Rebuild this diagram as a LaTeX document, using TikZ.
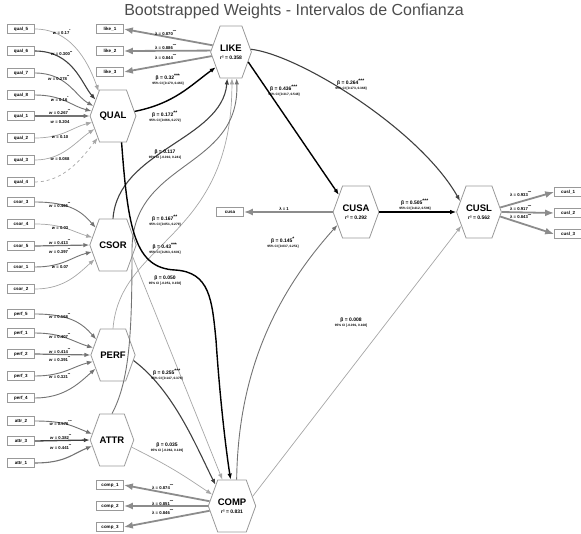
\documentclass[tikz,border=0pt]{standalone}
\usepackage{fontspec}
\setmainfont{Liberation Sans}
\usetikzlibrary{arrows.meta,shapes.symbols}

\tikzset{
  cons/.style={signal, signal to=east and west, signal pointer angle=140,
    draw=black!40, line width=0.8pt, fill=white, minimum width=40pt,
    minimum height=52pt, inner sep=0pt, align=center,
    font=\fontsize{9.5}{9}\selectfont\bfseries},
  ind/.style={draw=black!40, line width=0.7pt, fill=white, minimum width=27pt,
    minimum height=9pt, inner sep=0pt, font=\fontsize{4.5}{5}\selectfont\bfseries},
  wt/.style={font=\fontsize{4.2}{5}\selectfont\bfseries, inner sep=0pt},
  bt/.style={align=center, inner sep=0pt, font=\fontsize{5}{5.5}\selectfont\bfseries},
  tip/.style={-{Latex[length=6pt,width=4.5pt]}},
  pblack/.style={tip, black, line width=1.4pt},
  pdark/.style={tip, black!75, line width=1.1pt},
  pgray/.style={tip, black!55, line width=0.9pt},
  plight/.style={tip, black!35, line width=0.7pt},
  refl/.style={-{Latex[length=9pt,width=7pt]}, black!45, line width=1.8pt},
}
\newcommand{\rsq}[1]{\\[-1pt]{\fontsize{5}{5}\selectfont r² = #1}}
\newcommand{\ci}[1]{\\[-0.5pt]{\fontsize{3.2}{3.6}\selectfont 95\% CI [#1]}}
\newcommand{\st}[1]{\textsuperscript{#1}}

\begin{document}
\begin{tikzpicture}[x=1pt,y=-1pt]
    \useasboundingbox (0,0) rectangle (581,533);
    \node[font=\fontsize{16}{16}\selectfont, text=black!70] (title) at (294,11)
        {Bootstrapped Weights - Intervalos de Confianza};

    % Constructs
    \node[cons] (LIKE) at (231,52) {LIKE\rsq{0.358}};
    \node[cons] (QUAL) at (113,116) {QUAL};
    \node[cons] (CSOR) at (113,245) {CSOR};
    \node[cons] (PERF) at (113,355) {PERF};
    \node[cons] (ATTR) at (112,440) {ATTR};
    \node[cons] (COMP) at (232,506) {COMP\rsq{0.831}};
    \node[cons] (CUSA) at (356,212) {CUSA\rsq{0.292}};
    \node[cons] (CUSL) at (479,212) {CUSL\rsq{0.562}};

    % Formative indicators
    \foreach \n/\y in {5/29,6/51,7/73,8/95,1/116,2/138,3/160,4/182}
        \node[ind] (qual\n) at (21,\y) {qual\_\n};
    \foreach \n/\y in {3/202,4/224,5/246,1/267,2/289}
        \node[ind] (csor\n) at (21,\y) {csor\_\n};
    \foreach \n/\y in {5/314,1/333,2/354,3/376,4/398}
        \node[ind] (perf\n) at (21,\y) {perf\_\n};
    \foreach \n/\y in {2/421,3/441,1/463}
        \node[ind] (attr\n) at (21,\y) {attr\_\n};

    % Reflective indicators
    \foreach \n/\y in {1/29,2/51,3/72}
        \node[ind] (like\n) at (110,\y) {like\_\n};
    \foreach \n/\y in {1/485,2/506,3/527}
        \node[ind] (comp\n) at (110,\y) {comp\_\n};
    \node[ind] (cusa) at (230,212) {cusa};
    \foreach \n/\y in {1/192,2/213,3/234}
        \node[ind] (cusl\n) at (568,\y) {cusl\_\n};

    % QUAL weights
    \draw[plight] (qual5.east) .. controls +(40,0) and +(-8,-22) .. (QUAL.120);
    \draw[pdark] (qual6.east) .. controls +(38,0) and +(-14,-16) .. (QUAL.137);
    \draw[pgray] (qual7.east) .. controls +(32,0) and +(-18,-10) .. (QUAL.153);
    \draw[pgray] (qual8.east) .. controls +(28,0) and +(-20,-5) .. (QUAL.167);
    \draw[pgray, line width=1.2pt] (qual1.east) -- (QUAL.180);
    \draw[plight] (qual2.east) .. controls +(28,0) and +(-20,5) .. (QUAL.197);
    \draw[plight] (qual3.east) .. controls +(28,0) and +(-18,12) .. (QUAL.215);
    \draw[plight, dashed] (qual4.east) .. controls +(30,0) and +(-14,18) .. (QUAL.235);
    \node[wt] (wq5) at (62,32) {\textit{w} = 0.17\st{*}};
    \node[wt] (wq6) at (62,54) {\textit{w} = 0.300\st{**}};
    \node[wt] (wq7) at (59,78) {\textit{w} = 0.278\st{**}};
    \node[wt] (wq8) at (60,99) {\textit{w} = 0.16\st{*}};
    \node[wt] (wq1) at (60,112) {\textit{w} = 0.267\st{**}};
    \node[wt] (wq2) at (60,122) {\textit{w} = 0.204};
    \node[wt] (wq3) at (60,137) {\textit{w} = 0.10};
    \node[wt] (wq4) at (60,159) {\textit{w} = 0.088};

    % CSOR weights
    \draw[pgray] (csor3.east) .. controls +(35,0) and +(-14,-16) .. (CSOR.135);
    \draw[plight] (csor4.east) .. controls +(28,0) and +(-20,-6) .. (CSOR.160);
    \draw[pgray, line width=1.2pt] (csor5.east) -- (CSOR.180);
    \draw[pgray] (csor1.east) .. controls +(28,0) and +(-20,5) .. (CSOR.198);
    \draw[plight] (csor2.east) .. controls +(30,0) and +(-16,14) .. (CSOR.218);
    \node[wt] (wc3) at (60,205) {\textit{w} = 0.466\st{**}};
    \node[wt] (wc4) at (60,228) {\textit{w} = 0.03};
    \node[wt] (wc5) at (60,242) {\textit{w} = 0.413\st{**}};
    \node[wt] (wc1) at (60,251) {\textit{w} = 0.397\st{**}};
    \node[wt] (wc2) at (60,267) {\textit{w} = 0.07};

    % PERF weights
    \draw[pgray] (perf5.east) .. controls +(35,0) and +(-14,-16) .. (PERF.137);
    \draw[pgray] (perf1.east) .. controls +(28,0) and +(-20,-6) .. (PERF.160);
    \draw[pgray, line width=1.2pt] (perf2.east) -- (PERF.180);
    \draw[pgray] (perf3.east) .. controls +(28,0) and +(-20,5) .. (PERF.198);
    \draw[pgray] (perf4.east) .. controls +(30,0) and +(-16,14) .. (PERF.218);
    \node[wt] (wp5) at (60,316) {\textit{w} = 0.168\st{**}};
    \node[wt] (wp1) at (60,336) {\textit{w} = 0.407\st{**}};
    \node[wt] (wp2) at (60,351) {\textit{w} = 0.414\st{**}};
    \node[wt] (wp3) at (60,359) {\textit{w} = 0.391\st{**}};
    \node[wt] (wp4) at (60,376) {\textit{w} = 0.321\st{**}};

    % ATTR weights
    \draw[pgray] (attr2.east) .. controls +(30,0) and +(-20,-8) .. (ATTR.163);
    \draw[pdark, line width=1.3pt] (attr3.east) -- (ATTR.180);
    \draw[pgray, line width=1.1pt] (attr1.east) .. controls +(30,0) and +(-20,8) .. (ATTR.197);
    \node[wt] (wa2) at (61,423) {\textit{w} = 0.576\st{***}};
    \node[wt] (wa3) at (61,437) {\textit{w} = 0.382\st{**}};
    \node[wt] (wa1) at (61,447) {\textit{w} = 0.441\st{**}};

    % Loadings
    \draw[refl] (LIKE.160) -- (like1.east);
    \draw[refl] (LIKE.176) -- (like2.east);
    \draw[refl] (LIKE.192) -- (like3.east);
    \node[wt] (lk1) at (166,33) {λ = 0.870\st{***}};
    \node[wt] (lk2) at (166,47) {λ = 0.886\st{***}};
    \node[wt] (lk3) at (166,57) {λ = 0.844\st{***}};
    \draw[refl] (COMP.168) -- (comp1.east);
    \draw[refl] (COMP.180) -- (comp2.east);
    \draw[refl] (COMP.192) -- (comp3.east);
    \node[wt] (lc1) at (163,487) {λ = 0.874\st{***}};
    \node[wt] (lc2) at (163,503) {λ = 0.851\st{***}};
    \node[wt] (lc3) at (163,512) {λ = 0.846\st{***}};
    \draw[refl] (CUSA.west) -- (cusa.east);
    \node[wt] (lu) at (284,209) {λ = 1};
    \draw[refl] (CUSL.12) -- (cusl1.west);
    \draw[refl] (CUSL.0) -- (cusl2.west);
    \draw[refl] (CUSL.-12) -- (cusl3.west);
    \node[wt] (ll1) at (521,194) {λ = 0.933\st{***}};
    \node[wt] (ll2) at (521,208) {λ = 0.917\st{***}};
    \node[wt] (ll3) at (521,217) {λ = 0.843\st{***}};

    % Paths into LIKE
    \draw[pblack] (QUAL.12) .. controls +(40,-8) and +(-25,18) .. (LIKE.225);
    \draw[pdark] (CSOR.north) .. controls (118,150) and (222,140) .. (LIKE.262);
    \draw[plight] (PERF.north) .. controls (120,240) and (232,240) .. (LIKE.272);
    \draw[pgray] (ATTR.north) .. controls (130,380) and (132,330) .. (132,250)
        .. controls (132,160) and (240,170) .. (LIKE.282);
    \node[bt] (bql) at (168,80) {β = 0.32\st{***}\ci{0.170, 0.463}};
    \node[bt] (bcl) at (165,117) {β = 0.172\st{**}\ci{0.066, 0.272}};
    \node[bt] (bpl) at (165,155) {β = 0.117\ci{-0.010, 0.241}};
    \node[bt] (bal) at (165,221) {β = 0.167\st{**}\ci{0.051, 0.279}};

    % Paths into COMP
    \draw[pblack] (QUAL.288) .. controls (128,230) and (135,268) .. (175,270)
        .. controls (210,272) and (212,300) .. (216,340)
        .. controls (220,400) and (226,450) .. (COMP.93);
    \draw[plight] (CSOR.330) -- (COMP.110);
    \draw[pdark] (PERF.345) .. controls +(40,30) and +(-20,-40) .. (COMP.128);
    \draw[plight] (ATTR.340) .. controls +(40,20) and +(-30,-20) .. (COMP.150);
    \node[bt] (bqc) at (165,249) {β = 0.43\st{***}\ci{0.263, 0.601}};
    \node[bt] (bcc) at (165,281) {β = 0.050\ci{-0.051, 0.158}};
    \node[bt] (bpc) at (167,375) {β = 0.255\st{***}\ci{0.147, 0.378}};
    \node[bt] (bac) at (167,448) {β = 0.035\ci{-0.062, 0.139}};

    % Paths to CUSA and CUSL
    \draw[pblack] (LIKE.330) -- (CUSA.135);
    \draw[pdark] (LIKE.8) .. controls (300,55) and (420,130) .. (CUSL.150);
    \draw[pblack] (CUSA.east) -- (CUSL.west);
    \draw[pgray] (COMP.80) .. controls (238,380) and (270,300) .. (CUSA.215);
    \draw[plight] (COMP.25) -- (CUSL.218);
    \node[bt] (blu) at (284,91) {β = 0.436\st{***}\ci{0.317, 0.548}};
    \node[bt] (bll) at (351,85) {β = 0.264\st{***}\ci{0.173, 0.368}};
    \node[bt] (buu) at (415,205) {β = 0.505\st{***}\ci{0.412, 0.596}};
    \node[bt] (bcu) at (283,243) {β = 0.145\st{*}\ci{0.037, 0.251}};
    \node[bt] (bcl2) at (351,323) {β = 0.008\ci{-0.091, 0.108}};
\end{tikzpicture}
\end{document}
